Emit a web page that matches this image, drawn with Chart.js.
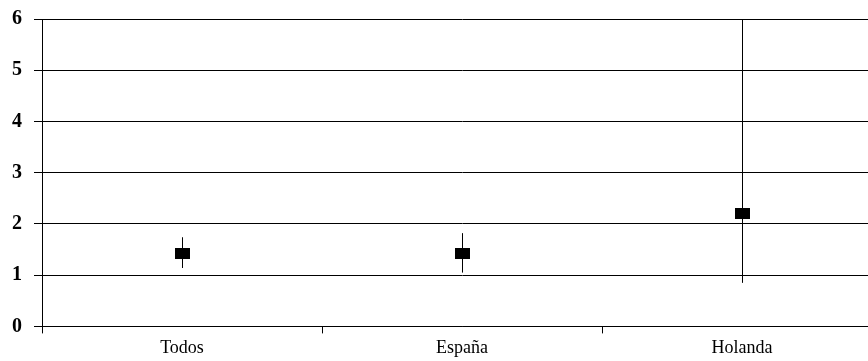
<!DOCTYPE html>
<html>
<head>
<meta charset="utf-8">
<script src="https://cdn.jsdelivr.net/npm/chart.js@4/dist/chart.umd.min.js"></script>
<style>
  html, body { margin: 0; padding: 0; background: #fff; overflow: hidden; }
  #wrap { width: 868px; height: 361px; overflow: hidden; }
  #chart { display: block; margin-top: -5px; }
</style>
</head>
<body>
<div id="wrap"><canvas id="chart" width="891" height="368"></canvas></div>
<script>
var categories = ['Todos', 'España', 'Holanda'];
var means = [1.42, 1.42, 2.2];
var lower = [1.14, 1.05, 0.85];
var upper = [1.74, 1.82, 6];
var yTicks = [0, 1, 2, 3, 4, 5, 6];

// filled marker, a bit wider than tall
var marker = document.createElement('canvas');
marker.width = 15;
marker.height = 11;
var mctx = marker.getContext('2d');
mctx.fillStyle = '#000';
mctx.fillRect(0, 0, 15, 11);

var errorBars = {
  id: 'errorBars',
  beforeDatasetsDraw: function(chart) {
    var ctx = chart.ctx;
    var x = chart.scales.x, y = chart.scales.y;
    ctx.save();
    ctx.strokeStyle = '#000';
    ctx.lineWidth = 1;
    for (var i = 0; i < categories.length; i++) {
      var px = Math.round(x.getPixelForValue(i)) + 0.5;
      ctx.beginPath();
      ctx.moveTo(px, y.getPixelForValue(lower[i]));
      ctx.lineTo(px, y.getPixelForValue(upper[i]));
      ctx.stroke();
    }
    ctx.restore();
  }
};

new Chart(document.getElementById('chart'), {
  type: 'line',
  data: {
    labels: categories,
    datasets: [{
      data: means,
      showLine: false,
      pointStyle: marker,
      pointRadius: 8,
      pointHoverRadius: 8
    }]
  },
  options: {
    responsive: false,
    animation: false,
    events: [],
    layout: { padding: { top: 11, left: 0, right: 0, bottom: 0 } },
    plugins: { legend: { display: false }, tooltip: { enabled: false } },
    scales: {
      x: {
        offset: true,
        grid: { offset: true, drawOnChartArea: false, color: '#000', tickLength: 7 },
        border: { color: '#000', width: 1 },
        ticks: { color: '#000', padding: 4, font: { family: 'Liberation Serif', size: 18 } }
      },
      y: {
        min: yTicks[0],
        max: yTicks[yTicks.length - 1],
        afterBuildTicks: function(s) { s.ticks = yTicks.map(function(v) { return { value: v }; }); },
        grid: { color: '#000', tickLength: 8 },
        border: { color: '#000', width: 1 },
        ticks: { color: '#000', padding: 12, font: { family: 'Liberation Serif', size: 20, weight: 'bold' } }
      }
    }
  },
  plugins: [errorBars]
});
</script>
</body>
</html>
